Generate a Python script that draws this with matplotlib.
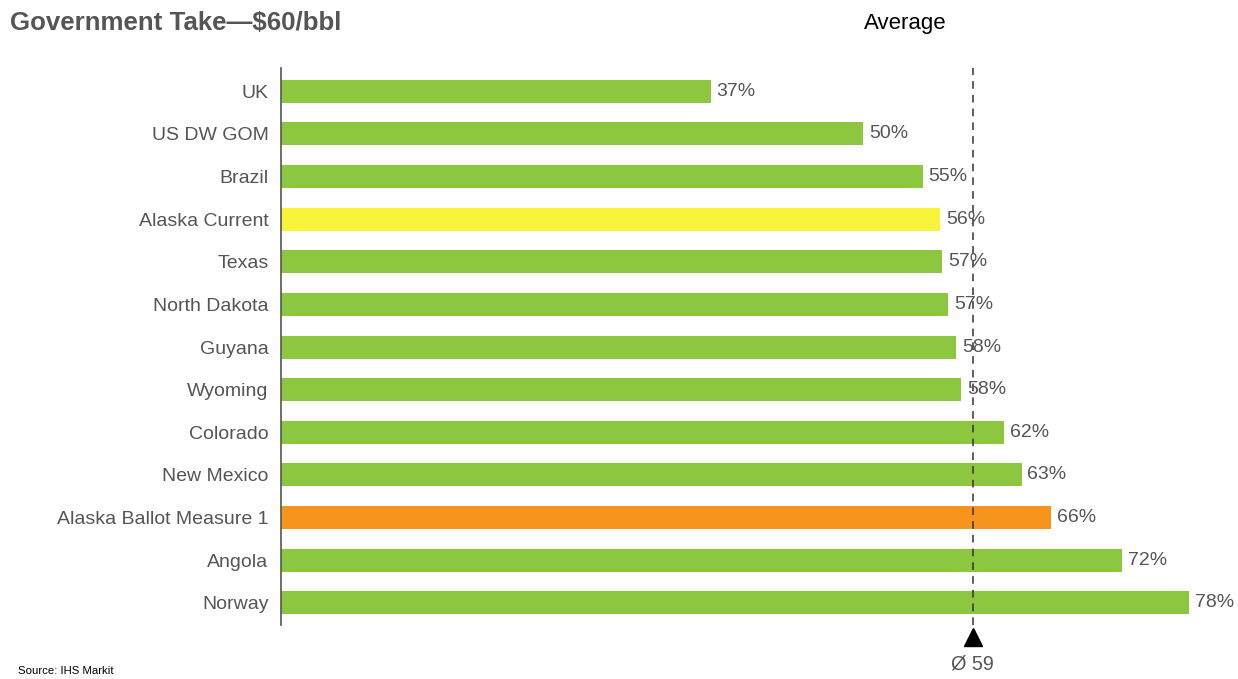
import matplotlib.pyplot as plt
import numpy as np

plt.rcParams['font.family'] = ['Liberation Sans', 'DejaVu Sans']

# data
countries = ['UK', 'US DW GOM', 'Brazil', 'Alaska Current', 'Texas', 'North Dakota',
             'Guyana', 'Wyoming', 'Colorado', 'New Mexico', 'Alaska Ballot Measure 1',
             'Angola', 'Norway']
take = [36.9, 50.0, 55.1, 56.6, 56.8, 57.3, 58.0, 58.4, 62.1, 63.6, 66.1, 72.2, 78.0]
take_labels = ['37%', '50%', '55%', '56%', '57%', '57%', '58%', '58%', '62%', '63%',
               '66%', '72%', '78%']
average = 59.4
average_label = 'Ø 59'

green = '#8DC63F'
colors = [green] * len(countries)
colors[countries.index('Alaska Current')] = '#F7F43A'
colors[countries.index('Alaska Ballot Measure 1')] = '#F7941E'
gray = '#555555'

fig = plt.figure(figsize=(12.38, 6.79), dpi=100)
ax = fig.add_axes([0.227, 0.0795, 0.7666, 0.820])

y = np.arange(len(countries))
ax.barh(y, take, height=0.54, color=colors, edgecolor='none')
for yi, v, lab in zip(y, take, take_labels):
    ax.text(v + 0.5, yi, lab, va='center', ha='left', fontsize=14, color=gray)

ax.set_xlim(0, 81.5)
ax.set_ylim(len(countries) - 0.48, -0.54)
ax.set_yticks(y)
ax.set_yticklabels(countries, fontsize=14, color=gray)
ax.tick_params(axis='y', length=0, pad=9)
ax.set_xticks([])
for s in ['top', 'right', 'bottom']:
    ax.spines[s].set_visible(False)
ax.spines['left'].set_color(gray)
ax.spines['left'].set_linewidth(1.2)

# average marker
ax.axvline(average, color='#333333', linestyle=(0, (5, 4)), linewidth=1.1)
ax.plot([average], [len(countries) - 0.2], marker='^', markersize=13, color='black',
        clip_on=False)
ax.text(average, len(countries) + 0.22, average_label, ha='center', va='top',
        fontsize=14.3, color=gray, clip_on=False)
fig.text(905 / 1238, 1 - 23 / 679, 'Average', ha='center', va='center', fontsize=16,
         color='black')

fig.text(10 / 1238, 1 - 23 / 679, 'Government Take\u2014$60/bbl', ha='left', va='center',
         fontsize=18.6, fontweight='bold', color=gray)
fig.text(18 / 1238, 1 - 671 / 679, 'Source: IHS Markit', ha='left', va='center',
         fontsize=8.2, color='black')

fig.savefig('out.png', dpi=100)
